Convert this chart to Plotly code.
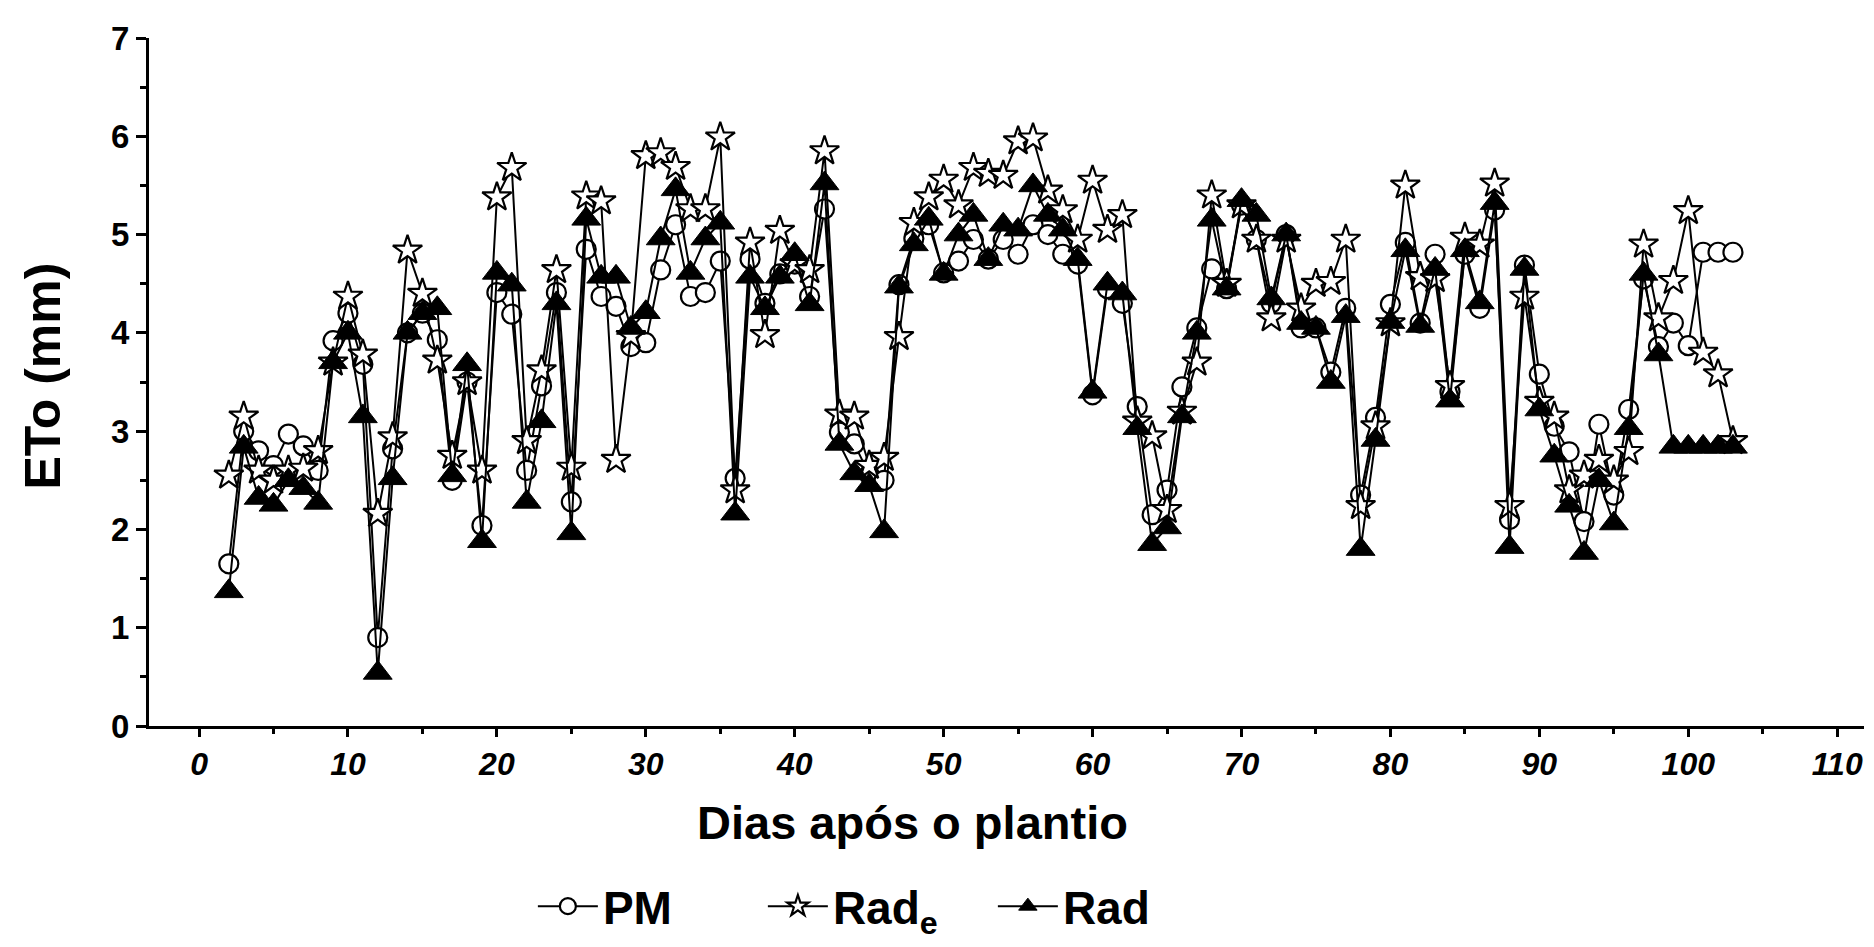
import plotly.graph_objects as go

days = list(range(2, 104))

pm = [1.65, 3.0, 2.8, 2.65, 2.97, 2.85, 2.6, 3.92, 4.2, 3.68,
      0.9, 2.82, 4.0, 4.2, 3.93, 2.5, 3.5, 2.04, 4.41, 4.19,
      2.6, 3.46, 4.41, 2.28, 4.85, 4.37, 4.27, 3.86, 3.9, 4.64,
      5.1, 4.37, 4.41, 4.73, 2.52, 4.75, 4.3, 4.6, 4.7, 4.37,
      5.26, 2.99, 2.87, 2.56, 2.5, 4.49, 4.96, 5.1, 4.61, 4.73,
      4.95, 4.75, 4.95, 4.8, 5.1, 5.0, 4.8, 4.7, 3.37, 4.45,
      4.3, 3.25, 2.15, 2.4, 3.45, 4.05, 4.65, 4.45, 5.3, 4.95,
      4.3, 5.0, 4.05, 4.05, 3.6, 4.25, 2.35, 3.14, 4.29, 4.92,
      4.1, 4.8, 3.4, 4.8, 4.25, 5.25, 2.1, 4.69, 3.58, 3.05,
      2.79, 2.08, 3.07, 2.35, 3.22, 4.55, 3.86, 4.1, 3.87, 4.82,
      4.82, 4.82]

rad_e = [2.55, 3.15, 2.6, 2.5, 2.6, 2.62, 2.8, 3.7, 4.37, 3.78,
         2.16, 2.94, 4.84, 4.4, 3.72, 2.75, 3.5, 2.6, 5.38, 5.68,
         2.9, 3.62, 4.64, 2.63, 5.39, 5.34, 2.71, 3.97, 5.8, 5.83,
         5.69, 5.26, 5.26, 5.99, 2.4, 4.92, 3.98, 5.04, 4.7, 4.64,
         5.85, 3.17, 3.15, 2.65, 2.73, 3.96, 5.12, 5.38, 5.56, 5.3,
         5.68, 5.62, 5.6, 5.95, 5.98, 5.45, 5.25, 4.95, 5.55, 5.05,
         5.2, 3.1, 2.95, 2.2, 3.2, 3.7, 5.4, 4.5, 5.3, 4.95,
         4.15, 4.95, 4.25, 4.5, 4.52, 4.95, 2.24, 3.05, 4.1, 5.5,
         4.57, 4.55, 3.46, 4.97, 4.9, 5.52, 2.24, 4.37, 3.3, 3.15,
         2.4, 2.55, 2.71, 2.5, 2.79, 4.9, 4.15, 4.53, 5.24, 3.8,
         3.58, 2.9]

rad = [1.37, 2.84, 2.32, 2.25, 2.5, 2.42, 2.27, 3.7, 4.0, 3.15,
       0.54, 2.52, 4.0, 4.2, 4.25, 2.55, 3.68, 1.88, 4.61, 4.49,
       2.28, 3.1, 4.3, 1.96, 5.16, 4.57, 4.57, 4.05, 4.21, 4.96,
       5.46, 4.61, 4.96, 5.12, 2.16, 4.57, 4.25, 4.57, 4.8, 4.29,
       5.52, 2.87, 2.57, 2.45, 1.98, 4.47, 4.9, 5.16, 4.6, 5.0,
       5.2, 4.75, 5.1, 5.05, 5.5, 5.2, 5.05, 4.75, 3.4, 4.5,
       4.4, 3.03, 1.85, 2.02, 3.15, 4.0, 5.15, 4.45, 5.35, 5.2,
       4.35, 5.0, 4.1, 4.05, 3.5, 4.17, 1.8, 2.91, 4.11, 4.84,
       4.07, 4.65, 3.31, 4.84, 4.31, 5.32, 1.82, 4.65, 3.22, 2.75,
       2.24, 1.76, 2.5, 2.06, 3.03, 4.6, 3.78, 2.84, 2.84, 2.84,
       2.84, 2.84]

x_ticks = [0, 10, 20, 30, 40, 50, 60, 70, 80, 90, 100, 110]
y_ticks = [0, 1, 2, 3, 4, 5, 6, 7]

FONT = "Arial, Liberation Sans, sans-serif"

fig = go.Figure()
fig.add_trace(go.Scatter(
    x=days, y=pm, mode="lines+markers", name="PM",
    line=dict(color="black", width=2),
    marker=dict(symbol="circle", size=19, color="white",
                line=dict(color="black", width=2.2)),
))
fig.add_trace(go.Scatter(
    x=days, y=rad_e, mode="lines+markers", name="Rad<sub>e</sub>",
    line=dict(color="black", width=2),
    marker=dict(symbol="star", size=22, color="white",
                line=dict(color="black", width=2.2)),
))
fig.add_trace(go.Scatter(
    x=days, y=rad, mode="lines+markers", name="Rad",
    line=dict(color="black", width=2),
    marker=dict(symbol="triangle-up", size=25, color="black",
                line=dict(color="black", width=1)),
))

fig.update_layout(
    width=1874, height=947,
    margin=dict(l=141, r=18, t=27, b=216),
    paper_bgcolor="white", plot_bgcolor="white",
    font=dict(family=FONT, color="black"),
    showlegend=True,
    legend=dict(
        orientation="h", x=0.425, xanchor="center", y=-0.262, yanchor="middle",
        font=dict(size=46, family=FONT, weight="bold", color="black"),
        itemwidth=60, entrywidth=155, entrywidthmode="pixels",
        bgcolor="rgba(0,0,0,0)", itemsizing="trace",
    ),
    xaxis=dict(
        range=[-3.36, 111.8], tickmode="array", tickvals=x_ticks,
        ticktext=[str(v) for v in x_ticks],
        showgrid=False, zeroline=False, showline=True, linecolor="black", linewidth=3,
        ticks="outside", ticklen=8, tickwidth=3, tickcolor="black",
        tickfont=dict(size=32, family=FONT, weight="bold", style="italic", color="black"),
        minor=dict(dtick=5, tick0=0, ticks="outside", ticklen=5, tickwidth=2.5,
                   tickcolor="black", showgrid=False),
    ),
    yaxis=dict(
        range=[0, 7], tickmode="array", tickvals=y_ticks,
        showgrid=False, zeroline=False, showline=True, linecolor="black", linewidth=3,
        ticks="outside", ticklen=10, tickwidth=3, tickcolor="black",
        tickfont=dict(size=33, family=FONT, weight="bold", color="black"),
        minor=dict(dtick=0.5, tick0=0, ticks="outside", ticklen=6, tickwidth=2.5,
                   tickcolor="black", showgrid=False),
    ),
    annotations=[
        dict(text="Dias após o plantio", xref="paper", yref="paper",
             x=0.445, y=-0.14, xanchor="center", yanchor="middle", showarrow=False,
             font=dict(size=47, family=FONT, weight="bold", color="black")),
        dict(text="ETo (mm)", xref="paper", yref="paper", textangle=-90,
             x=-0.062, y=0.509, xanchor="center", yanchor="middle", showarrow=False,
             font=dict(size=50, family=FONT, weight="bold", color="black")),
    ],
)

fig.write_html("out.html")
